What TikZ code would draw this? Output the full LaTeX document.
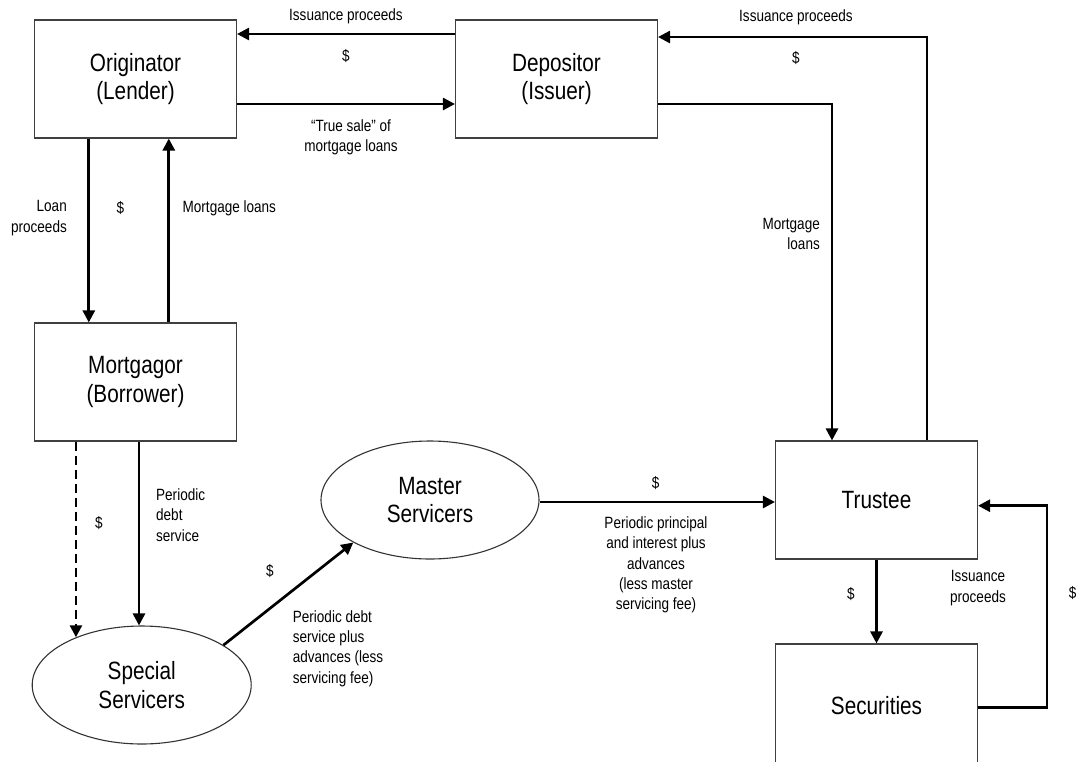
\documentclass[tikz,border=0pt]{standalone}
\usepackage{fontspec}
\setmainfont[FakeStretch=0.83]{Liberation Sans}
\usetikzlibrary{arrows.meta,shapes.geometric}
\begin{document}
\begin{tikzpicture}[x=1pt,y=-1pt,
  box/.style={draw=black!75,line width=1.1pt,rectangle,minimum width=202pt,minimum height=118pt,inner sep=0pt,align=center,font=\fontsize{25}{28.7}\selectfont},
  oval/.style={draw=black!80,line width=1.1pt,ellipse,minimum width=218pt,minimum height=118pt,inner sep=0pt,align=center,font=\fontsize{25}{28.7}\selectfont},
  flow/.style={line width=2.7pt,-{Triangle[length=12pt,width=12pt]}},
  dflow/.style={flow,dash pattern=on 9pt off 5pt},
  lab/.style={inner sep=0pt,font=\fontsize{16.3}{20.3}\selectfont},
]
\useasboundingbox (0,0) rectangle (1076,761);
\clip (0,0) rectangle (1076,761);
\fill[white] (0,0) rectangle (1076,761);

% nodes
\node[box] (orig) at (135.5,79) {Originator\\(Lender)};
\node[box] (dep)  at (556.5,79) {Depositor\\(Issuer)};
\node[box] (mort) at (135.5,382) {Mortgagor\\(Borrower)};
\node[box] (tru)  at (876.5,500) {Trustee};
\node[box,minimum height=124pt] (sec)  at (876.5,706) {Securities};
\node[oval] (mast) at (430,500) {Master\\Servicers};
\node[oval,minimum width=219pt] (spec) at (141.7,685) {Special\\Servicers};

% connectors
\draw[flow] ([yshift=45pt]dep.west) -- ([yshift=45pt]orig.east);
\draw[flow] ([yshift=-25pt]orig.east) -- ([yshift=-25pt]dep.west);
\draw[flow] ([xshift=50.5pt]tru.north) |- ([yshift=42pt]dep.east);
\draw[flow] ([yshift=-25pt]dep.east) -| ([xshift=-44.5pt]tru.north);
\draw[flow] ([xshift=-46.7pt]orig.south) -- ([xshift=-46.7pt]mort.north);
\draw[flow] ([xshift=33.3pt]mort.north) -- ([xshift=33.3pt]orig.south);
\draw[dflow] (spec.144.7 |- mort.south) -- (spec.144.7);
\draw[flow] ([xshift=3.5pt]mort.south) -- ([xshift=3.5pt]mort.south |- spec.north);
\draw[flow] (spec.26.8) -- (mast.209.6);
\draw[flow] ([yshift=-2pt]mast.east) -- ([yshift=-2pt]mast.east -| tru.west);
\draw[flow] (tru.south) -- (sec.north);
\draw[flow] ([yshift=-1.7pt]sec.east) -- ++(69,0) |- ([yshift=-5.7pt]tru.east);

% labels
\node[lab] (l1) at (346,16) {Issuance proceeds};
\node[lab] (d1) at (346,56) {\$};
\node[lab,align=center] (l2) at (351,137) {“True sale” of\\mortgage loans};
\node[lab] (l3) at (796,17) {Issuance proceeds};
\node[lab] (d3) at (796,58) {\$};
\node[lab,anchor=east,align=right] (l4) at (820,234) {Mortgage\\loans};
\node[lab,anchor=east,align=right] (l5) at (67,218) {Loan\\proceeds};
\node[lab] (d5) at (120.5,208) {\$};
\node[lab,anchor=west] (l6) at (182.5,208) {Mortgage loans};
\node[lab] (d6) at (98.8,523) {\$};
\node[lab,anchor=west,align=left] (l7) at (156,515) {Periodic\\debt\\service};
\node[lab] (d7) at (270,571) {\$};
\node[lab,anchor=west,align=left] (l8) at (292.7,648.5) {Periodic debt\\service plus\\advances (less\\servicing fee)};
\node[lab] (d8) at (655.6,483) {\$};
\node[lab,align=center] (l9) at (656,565) {Periodic principal\\and interest plus\\advances\\(less master\\servicing fee)};
\node[lab] (d9) at (851,594) {\$};
\node[lab,align=center] (l10) at (978,588) {Issuance\\proceeds};
\node[lab] (d10) at (1072.7,593) {\$};
\end{tikzpicture}
\end{document}
